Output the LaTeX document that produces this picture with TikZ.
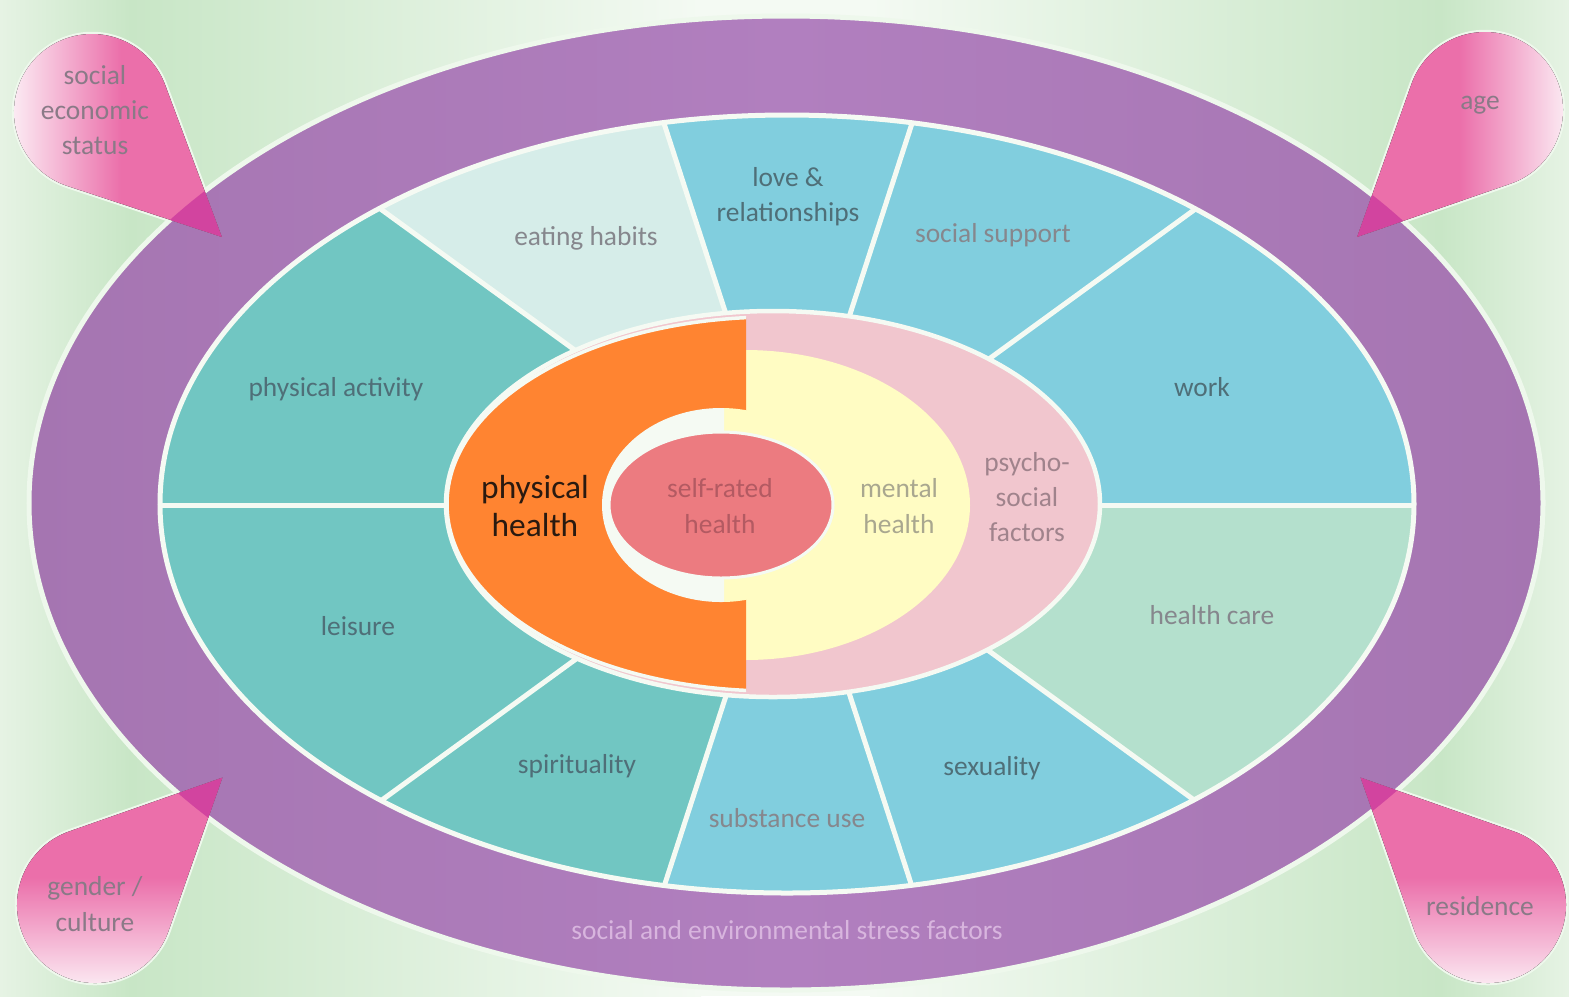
\documentclass[tikz,border=0pt]{standalone}
\usepackage{fontspec}
\setmainfont{Carlito}
\definecolor{cBgL}{HTML}{E6F3E4}
\definecolor{cBgG}{HTML}{C8E6C6}
\definecolor{cBgW}{HTML}{F4FAF3}
\definecolor{cGlow}{HTML}{EEF8EC}
\definecolor{cPurp}{HTML}{A575B1}
\definecolor{cPurpL}{HTML}{B17FBF}
\definecolor{cTeal}{HTML}{71C6C2}
\definecolor{cBlue}{HTML}{81CEDE}
\definecolor{cMint}{HTML}{B4E0CD}
\definecolor{cEat}{HTML}{D6EDE9}
\definecolor{cLine}{HTML}{F5FAF3}
\definecolor{cPink}{HTML}{F1C6CE}
\definecolor{cYellow}{HTML}{FFFCC3}
\definecolor{cOrange}{HTML}{FF8431}
\definecolor{cRed}{HTML}{EC7B80}
\definecolor{cDrop}{HTML}{EB6FAA}
\definecolor{cDropW}{HTML}{FCEEF5}
\definecolor{cDropD}{HTML}{D2449F}
\definecolor{cTD}{HTML}{8A7A87}
\definecolor{cTB}{HTML}{4F6F78}
\definecolor{cTG}{HTML}{86878D}
\definecolor{cTPh}{HTML}{2A1A10}
\definecolor{cTR}{HTML}{B35A62}
\definecolor{cTY}{HTML}{A9A78F}
\definecolor{cTP}{HTML}{A0838C}
\definecolor{cTS}{HTML}{D8B5DE}
\begin{document}
\begin{tikzpicture}[x=0.01cm,y=-0.01cm,
  lbl/.style={font=\fontsize{7.8}{10}\selectfont, align=center, inner sep=0pt},
  divider/.style={draw=cLine, line width=0.5mm},
  glow/.style={draw=cGlow, line width=0.45mm},
  droppath/.style={insert path={(180,0) -- (64.3:78) arc[start angle=64.3, end angle=295.7, radius=78] -- cycle}},
  dTL/.style={shift={(92,112)}, rotate=-43.9},
  dTR/.style={shift={(1485,110)}, rotate=-135.2},
  dBL/.style={shift={(95,905)}, rotate=45},
  dBR/.style={shift={(1488,905)}, rotate=135},
]
\useasboundingbox (0,0) rectangle (1569,996);
% background
\fill[left color=cBgL, right color=cBgG] (0,0) rectangle (131,996);
\fill[left color=cBgG, right color=cBgW] (130,0) rectangle (701,996);
\fill[cBgW] (700,0) rectangle (871,996);
\fill[left color=cBgW, right color=cBgG] (870,0) rectangle (1441,996);
\fill[left color=cBgG, right color=cBgL] (1440,0) rectangle (1569,996);
% purple ring
\path[draw=cGlow, line width=0.5mm, left color=cPurp, right color=cPurp, middle color=cPurpL] (786,503) ellipse [x radius=757, y radius=487];
% sectors
\begin{scope}
  \clip (787,504) ellipse [x radius=627, y radius=389];
  \begin{scope}[shift={(788,505)}]
    \foreach \a/\c in {0/cMint,36/cBlue,72/cBlue,108/cTeal,144/cTeal,180/cTeal,216/cEat,252/cBlue,288/cBlue,324/cBlue}
      \fill[\c] (0,0) -- (\a:1200) -- ({\a+18}:1200) -- ({\a+36}:1200) -- cycle;
    \foreach \a in {0,36,...,324}
      \draw[divider] (0,0) -- (\a:1000);
  \end{scope}
\end{scope}
\draw[draw=cLine, line width=0.5mm] (787,504) ellipse [x radius=627, y radius=389];
% centre
\filldraw[fill=cPink, draw=cLine, line width=0.45mm] (773,504) ellipse [x radius=327, y radius=193];
\begin{scope}
  \clip (724,300) rectangle (1000,720);
  \fill[cYellow] (745,505) ellipse [x radius=225, y radius=155];
\end{scope}
\begin{scope}
  \clip (400,300) rectangle (746,720);
  \filldraw[fill=cOrange, draw=cLine, line width=0.35mm] (773,504) ellipse [x radius=326, y radius=187];
\end{scope}
\begin{scope}
  \clip (721,505) ellipse [x radius=119, y radius=97];
  \fill[cYellow] (723,400) rectangle (747,612);
\end{scope}
\begin{scope}
  \clip (560,380) rectangle (724,630);
  \fill[cLine] (721,505) ellipse [x radius=119, y radius=97];
\end{scope}
\filldraw[fill=cRed, draw=cLine, line width=0.3mm] (721,505) ellipse [x radius=112, y radius=73];
% drops: glow outlines outside the purple ring
\begin{scope}[even odd rule]
  \clip (0,0) rectangle (1569,996) (786,503) ellipse [x radius=757, y radius=487];
  \draw[glow, dTL, droppath];
  \draw[glow, dTR, droppath];
  \draw[glow, dBL, droppath];
  \draw[glow, dBR, droppath];
\end{scope}
% drop fills
\begin{scope}
  \path[clip, dTL, droppath];
  \fill[left color=cDropW, right color=cDrop, middle color=cDrop] (10,25) rectangle (232,245);
\end{scope}
\begin{scope}
  \path[clip, dTR, droppath];
  \fill[left color=cDrop, right color=cDropW, middle color=cDrop] (1350,25) rectangle (1569,245);
\end{scope}
\begin{scope}
  \path[clip, dBL, droppath];
  \fill[top color=cDrop, bottom color=cDropW, middle color=cDrop] (10,765) rectangle (232,990);
\end{scope}
\begin{scope}
  \path[clip, dBR, droppath];
  \fill[top color=cDrop, bottom color=cDropW, middle color=cDrop] (1350,765) rectangle (1569,990);
\end{scope}
% drop tips over the ring
\begin{scope}
  \clip (786,503) ellipse [x radius=757, y radius=487];
  \fill[cDropD, dTL, droppath];
  \fill[cDropD, dTR, droppath];
  \fill[cDropD, dBL, droppath];
  \fill[cDropD, dBR, droppath];
\end{scope}
% labels
\node[lbl, text=cTD] (ses) at (95,110) {social\\economic\\status};
\node[lbl, text=cTD] (age) at (1480,105) {age};
\node[lbl, text=cTD] (gen) at (95,904) {gender /\\culture};
\node[lbl, text=cTD] (res) at (1480,906) {residence};
\node[lbl, text=cTB] (love) at (788,197) {love \&\\relationships};
\node[lbl, text=cTG] (eat) at (586,238) {eating habits};
\node[lbl, text=cTG] (sup) at (993,235) {social support};
\node[lbl, text=cTB] (pa) at (336,389) {physical activity};
\node[lbl, text=cTB] (work) at (1202,387) {work};
\node[lbl, text=cTB] (leis) at (358,626) {leisure};
\node[lbl, text=cTG] (hc) at (1212,615) {health care};
\node[lbl, text=cTB] (spir) at (577,766) {spirituality};
\node[lbl, text=cTG] (subs) at (787,818) {substance use};
\node[lbl, text=cTB] (sex) at (992,768) {sexuality};
\node[lbl, font=\fontsize{9.5}{10.8}\selectfont, text=cTPh] (ph) at (535,506) {physical\\health};
\node[lbl, text=cTR] (srh) at (720,506) {self-rated\\health};
\node[lbl, text=cTY] (mh) at (899,506) {mental\\health};
\node[lbl, text=cTP] (psf) at (1027,497) {psycho-\\social\\factors};
\node[lbl, text=cTS] (stress) at (787,930) {social and environmental stress factors};
\end{tikzpicture}
\end{document}
